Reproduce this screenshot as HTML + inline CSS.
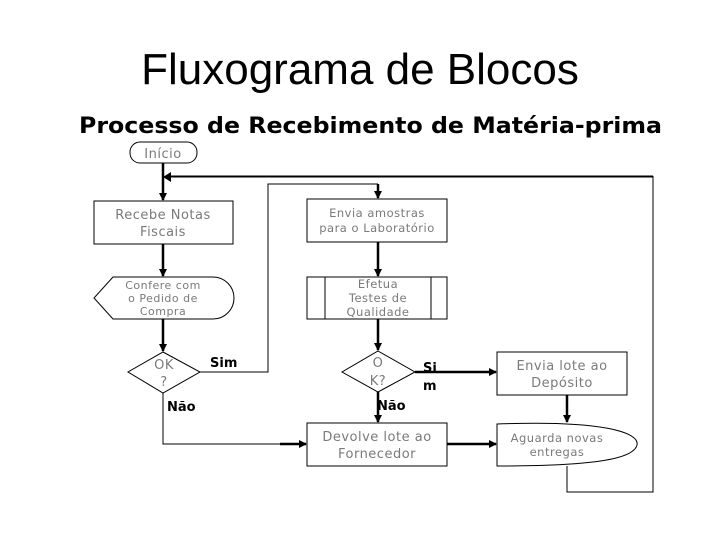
<!DOCTYPE html>
<html><head><meta charset="utf-8"><style>
html,body{margin:0;padding:0;background:#fff;width:720px;height:540px;overflow:hidden}
svg{display:block}
.n{font-family:"DejaVu Sans",sans-serif;fill:#7a7a7a;text-anchor:middle;letter-spacing:0.5px}
.l{font-family:"DejaVu Sans",sans-serif;fill:#000;font-weight:bold;font-size:13px}
</style></head><body>
<svg width="720" height="540" viewBox="0 0 720 540">
<defs><marker id="a" markerWidth="8" markerHeight="8" refX="7" refY="4" orient="auto" markerUnits="userSpaceOnUse"><path d="M0,0 L8,4 L0,8 Z" fill="#000"/></marker></defs>
<text x="360" y="84" text-anchor="middle" font-family="Liberation Sans,sans-serif" font-size="44" fill="#000">Fluxograma de Blocos</text>
<text x="79" y="133" font-family="DejaVu Sans,sans-serif" font-weight="bold" font-size="22" textLength="583" lengthAdjust="spacingAndGlyphs" fill="#000">Processo de Recebimento de Matéria-prima</text>
<g fill="none" stroke="#000" stroke-width="1">
<rect x="130" y="142" width="67" height="21" rx="10"/>
<rect x="94" y="201" width="139" height="43"/>
<path d="M113,277 L213,277 A21,21 0 0 1 213,319 L113,319 L94,298 Z"/>
<path d="M163,352 L200,372 L163,393 L128,372 Z"/>
<rect x="307" y="199" width="140" height="43"/>
<rect x="307" y="277" width="140" height="42"/>
<line x1="325" y1="277" x2="325" y2="319"/><line x1="431" y1="277" x2="431" y2="319"/>
<path d="M378,351 L415,372 L378,392 L342,372 Z"/>
<rect x="497" y="352" width="130" height="43"/>
<rect x="307" y="423" width="140" height="43"/>
<path d="M497,424 C600,420 640,432 637,445 C634,458 600,466 497,466 Z"/>
<path d="M200,372 L268,372 L268,184 L378,184"/>
<path d="M567,466 L567,492 L653,492 L653,176"/>
</g>
<line x1="653" y1="176.5" x2="170" y2="176.5" stroke="#000" stroke-width="2"/>
<g stroke="#000" stroke-width="2.5" fill="none">
<line x1="163" y1="163" x2="163" y2="200" marker-end="url(#a)"/>
<line x1="163" y1="244" x2="163" y2="276" marker-end="url(#a)"/>
<line x1="163" y1="319" x2="163" y2="351" marker-end="url(#a)"/>
<line x1="378" y1="184" x2="378" y2="198" marker-end="url(#a)"/>
<line x1="378" y1="242" x2="378" y2="276" marker-end="url(#a)"/>
<line x1="378" y1="319" x2="378" y2="350" marker-end="url(#a)"/>
<line x1="378" y1="392" x2="378" y2="422" marker-end="url(#a)"/>
<line x1="415" y1="372" x2="496" y2="372" marker-end="url(#a)"/>
<line x1="447" y1="444" x2="496" y2="444" marker-end="url(#a)"/>
<line x1="567" y1="395" x2="567" y2="422" marker-end="url(#a)"/>
</g>
<path d="M163,393 L163,444 L300,444" stroke="#000" stroke-width="1" fill="none"/>
<line x1="280" y1="444" x2="306" y2="444" stroke="#000" stroke-width="2.5" marker-end="url(#a)"/>
<path d="M163,177 L171,172 L171,182 Z" fill="#000"/>
<text class="n" x="163" y="158" font-size="13">Início</text>
<text class="n" x="163" y="219" font-size="13">Recebe Notas</text>
<text class="n" x="163" y="236" font-size="13">Fiscais</text>
<text class="n" x="163" y="289" font-size="11">Confere com</text>
<text class="n" x="163" y="302" font-size="11">o Pedido de</text>
<text class="n" x="163" y="315" font-size="11">Compra</text>
<text class="n" x="164" y="369" font-size="13">OK</text>
<text class="n" x="164" y="386" font-size="13">?</text>
<text class="l" x="210" y="367">Sim</text>
<text class="l" x="167" y="411">Não</text>
<text class="n" x="377" y="217" font-size="11.5">Envia amostras</text>
<text class="n" x="377" y="232" font-size="11.5">para o Laboratório</text>
<text class="n" x="378" y="288" font-size="11.5">Efetua</text>
<text class="n" x="378" y="302" font-size="11.5">Testes de</text>
<text class="n" x="378" y="316" font-size="11.5">Qualidade</text>
<text class="n" x="378" y="367" font-size="13">O</text>
<text class="n" x="378" y="385" font-size="13">K?</text>
<text class="l" x="423" y="372">Si</text>
<text class="l" x="423" y="390">m</text>
<text class="l" x="377" y="410">Não</text>
<text class="n" x="562" y="370" font-size="13">Envia lote ao</text>
<text class="n" x="562" y="387" font-size="13">Depósito</text>
<text class="n" x="377" y="441" font-size="13">Devolve lote ao</text>
<text class="n" x="377" y="458" font-size="13">Fornecedor</text>
<text class="n" x="557" y="442" font-size="11.5">Aguarda novas</text>
<text class="n" x="557" y="456" font-size="11.5">entregas</text>
</svg>
</body></html>
